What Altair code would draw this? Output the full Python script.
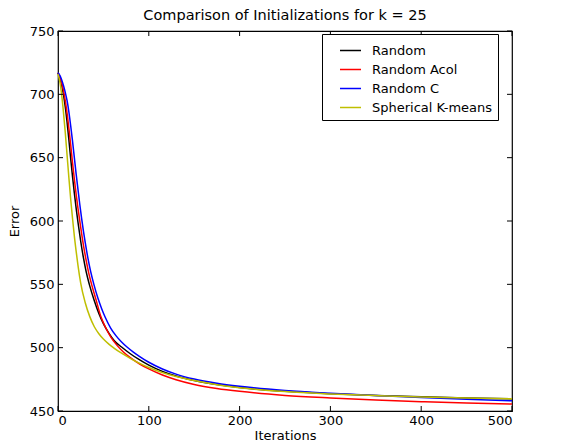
import altair as alt
import pandas as pd

series_names = ["Random", "Random Acol", "Random C", "Spherical K-means"]
series_colors = ["#000000", "#ff0000", "#0000ff", "#bfbf00"]

random_iters = [0, 2, 4, 6, 8, 10, 12, 14, 16, 18, 20, 22, 25, 28, 31, 34.5, 40, 45, 50, 56, 62, 70, 80, 90, 100, 115, 130, 150, 175, 200, 250, 300, 350, 400, 450, 500]
random_err = [717, 713, 707.5, 700, 690, 678, 664, 649, 635, 622, 610, 599, 584, 571, 560, 550, 537, 527, 519, 511.5, 505.5, 500.5, 495, 490.3, 486.2, 481.3, 477.6, 474.1, 470.9, 468.5, 465.6, 463.7, 462.3, 461.2, 460.3, 459.6]

acol_iters = [0, 2, 4, 6, 8, 10, 12, 14, 16, 18, 20, 22, 25, 28, 31, 34, 37, 42, 47, 52, 58, 65, 72, 80, 90, 100, 115, 130, 150, 175, 200, 250, 300, 350, 400, 450, 500]
acol_err = [717, 714, 709, 703, 695, 685, 673, 660, 646, 633, 621, 610, 595, 581, 569, 558.5, 550, 537.5, 525, 516.5, 508.5, 501.8, 496.6, 491.9, 487.1, 483.2, 478.4, 474.7, 471, 467.8, 465.5, 462.3, 460.3, 458.7, 457.4, 456.3, 455.5]

randc_iters = [0, 2, 4, 6, 8, 10, 12, 14, 16, 18, 20, 22, 24, 26, 28, 30, 33, 36, 39.5, 44, 48, 52, 58, 64, 70, 76, 83, 90, 100, 115, 130, 150, 175, 200, 250, 300, 350, 400, 450, 500]
randc_err = [717, 715, 711.5, 707, 701.5, 695, 686, 675, 663, 650, 637, 625, 613, 602, 592, 583, 570.5, 560, 550, 539, 531, 524, 515.5, 509.3, 504.5, 500.5, 496.5, 493, 488.5, 483.2, 479.1, 475.2, 471.9, 469.5, 466.2, 464, 462.2, 460.6, 459.2, 458]

sph_iters = [0, 2, 4, 6, 8, 10, 12, 14, 16, 18, 20, 22, 25, 30, 35, 40, 45, 50, 56, 62, 70, 80, 90, 100, 115, 130, 150, 175, 200, 250, 300, 350, 400, 450, 500]
sph_err = [716, 710, 700, 686, 670, 652, 634, 617, 602, 588, 576, 565, 551, 535.5, 524.5, 516.5, 511, 506.8, 502.8, 499.5, 495.6, 491.4, 487.6, 484.3, 480.3, 477.2, 474, 470.8, 468.4, 465.3, 463.5, 462.2, 461.1, 460.3, 459.6]

x_ticks = [0, 100, 200, 300, 400, 500]
y_ticks = [450, 500, 550, 600, 650, 700, 750]

rows = []
for name, its, errs in [
    (series_names[0], random_iters, random_err),
    (series_names[1], acol_iters, acol_err),
    (series_names[2], randc_iters, randc_err),
    (series_names[3], sph_iters, sph_err),
]:
    for order, (i, e) in enumerate(zip(its, errs)):
        rows.append({"series": name, "iter": i, "err": e, "ord": order})
df = pd.DataFrame(rows)

W, H = 454, 380
FONT = "DejaVu Sans"

xscale = alt.Scale(domain=[0, 500], nice=False, zero=False)
yscale = alt.Scale(domain=[450, 750], nice=False, zero=False)

lines = alt.Chart(df).mark_line(strokeWidth=1.5, interpolate="monotone").encode(
    x=alt.X("iter:Q", scale=xscale,
            axis=alt.Axis(title="Iterations", values=x_ticks, ticks=False, domain=False,
                          grid=False, labelPadding=3, titlePadding=2, format="d")),
    y=alt.Y("err:Q", scale=yscale,
            axis=alt.Axis(title="Error", values=y_ticks, ticks=False, domain=False,
                          grid=False, labelPadding=4, titlePadding=8, format="d")),
    color=alt.Color("series:N", scale=alt.Scale(domain=series_names, range=series_colors),
                    legend=alt.Legend(title=None, orient="none", legendX=264, legendY=3,
                                      symbolType="stroke", symbolSize=441, symbolStrokeWidth=1.5,
                                      symbolOffset=12,
                                      labelFontSize=13, labelFont=FONT, labelColor="#000000",
                                      strokeColor="#000000", fillColor="#ffffff",
                                      padding=5, rowPadding=-9, labelOffset=10, cornerRadius=0)),
    order="ord:Q",
)

xt = pd.DataFrame({"v": x_ticks})
yt = pd.DataFrame({"v": y_ticks})
tick_style = dict(color="#000000", strokeWidth=1)
xb = alt.Chart(xt).mark_rule(**tick_style).encode(x=alt.X("v:Q", scale=xscale), y=alt.value(H), y2=alt.value(H - 5))
xtop = alt.Chart(xt).mark_rule(**tick_style).encode(x=alt.X("v:Q", scale=xscale), y=alt.value(0), y2=alt.value(5))
yl = alt.Chart(yt).mark_rule(**tick_style).encode(y=alt.Y("v:Q", scale=yscale), x=alt.value(0), x2=alt.value(5))
yr = alt.Chart(yt).mark_rule(**tick_style).encode(y=alt.Y("v:Q", scale=yscale), x=alt.value(W), x2=alt.value(W - 5))

chart = alt.layer(lines, xb, xtop, yl, yr).properties(
    width=W, height=H,
    background="#ffffff",
    title=alt.TitleParams("Comparison of Initializations for k = 25", fontSize=14.5,
                          font=FONT, fontWeight="normal", color="#000000", offset=2),
    autosize=alt.AutoSizeParams(type="none"),
    padding={"left": 50, "top": 23, "right": 40, "bottom": 30},
).configure_view(stroke="#000000", strokeWidth=1.2).configure_axis(
    labelFont=FONT, titleFont=FONT, labelFontSize=13, titleFontSize=13,
    labelColor="#000000", titleColor="#000000", titleFontWeight="normal",
)

chart.save("out.html", embed_options={"renderer": "svg", "actions": False})
